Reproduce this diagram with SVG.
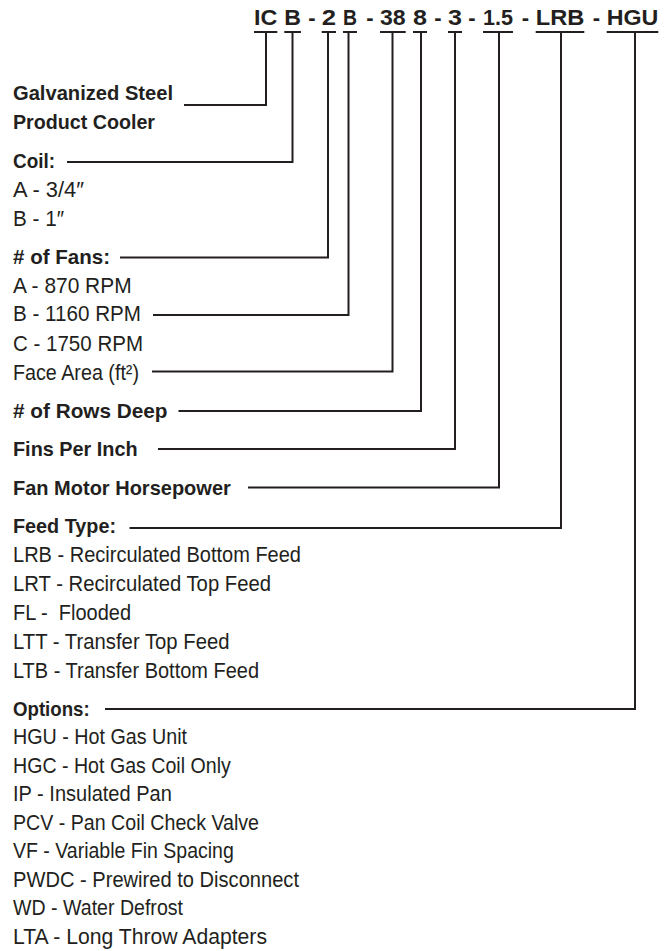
<svg xmlns="http://www.w3.org/2000/svg" width="669" height="951" viewBox="0 0 669 951">
<style>
text{font-family:"Liberation Sans",Arial,sans-serif;fill:#231f20}
.t{font-size:22px;font-weight:bold}
.h{font-size:21px;font-weight:bold}
.r{font-size:21.5px}
.ln{fill:none;stroke:#231f20;stroke-width:2}
</style>
<rect width="669" height="951" fill="#fff"/>
<g id="code">
<text class="t" x="254" y="25" textLength="23.3" lengthAdjust="spacingAndGlyphs">IC</text>
<text class="t" x="284.3" y="25" textLength="16.7" lengthAdjust="spacingAndGlyphs">B</text>
<text class="t" x="312" y="25" text-anchor="middle">-</text>
<text class="t" x="321.7" y="25" textLength="14.3" lengthAdjust="spacingAndGlyphs">2</text>
<text class="t" x="343" y="25" textLength="14" lengthAdjust="spacingAndGlyphs">B</text>
<text class="t" x="370" y="25" text-anchor="middle">-</text>
<text class="t" x="380" y="25" textLength="25.7" lengthAdjust="spacingAndGlyphs">38</text>
<text class="t" x="413" y="25" textLength="14" lengthAdjust="spacingAndGlyphs">8</text>
<text class="t" x="438" y="25" text-anchor="middle">-</text>
<text class="t" x="448" y="25" textLength="14" lengthAdjust="spacingAndGlyphs">3</text>
<text class="t" x="472" y="25" text-anchor="middle">-</text>
<text class="t" x="483" y="25" textLength="30" lengthAdjust="spacingAndGlyphs">1.5</text>
<text class="t" x="525.5" y="25" text-anchor="middle">-</text>
<text class="t" x="535.7" y="25" textLength="48.6" lengthAdjust="spacingAndGlyphs">LRB</text>
<text class="t" x="596.3" y="25" text-anchor="middle">-</text>
<text class="t" x="606.7" y="25" textLength="51.6" lengthAdjust="spacingAndGlyphs">HGU</text>
<path class="ln" d="M254 32H277.3M284.3 32H301M321.7 32H336M343 32H357M380 32H405.7M413 32H427M448 32H462M483 32H513M535.7 32H584.3M606.7 32H658.3"/>
</g>
<g id="connectors">
<path class="ln" d="M184 105H266V32"/>
<path class="ln" d="M67 162H292.5V32"/>
<path class="ln" d="M120 257.5H328V32"/>
<path class="ln" d="M153 315H348.5V32"/>
<path class="ln" d="M152 371.5H392.5V32"/>
<path class="ln" d="M178.5 411H421V32"/>
<path class="ln" d="M158 449H455V32"/>
<path class="ln" d="M248 487.5H499V32"/>
<path class="ln" d="M129.5 528H561V32"/>
<path class="ln" d="M105 709H635V32"/>
</g>
<g id="product">
<text class="h" x="13" y="100" textLength="160" lengthAdjust="spacingAndGlyphs">Galvanized Steel</text>
<text class="h" x="13" y="129" textLength="142" lengthAdjust="spacingAndGlyphs">Product Cooler</text>
</g>
<g id="coil">
<text class="h" x="13" y="167.5" textLength="42" lengthAdjust="spacingAndGlyphs">Coil:</text>
<text class="r" x="13" y="197" textLength="71" lengthAdjust="spacingAndGlyphs">A - 3/4″</text>
<text class="r" x="13" y="225.5" textLength="51" lengthAdjust="spacingAndGlyphs">B - 1″</text>
</g>
<g id="fans">
<text class="h" x="13" y="263.5" textLength="97" lengthAdjust="spacingAndGlyphs"># of Fans:</text>
<text class="r" x="13" y="292.5" textLength="118.6" lengthAdjust="spacingAndGlyphs">A - 870 RPM</text>
<text class="r" x="13" y="321" textLength="128" lengthAdjust="spacingAndGlyphs">B - 1160 RPM</text>
<text class="r" x="13" y="351" textLength="130" lengthAdjust="spacingAndGlyphs">C - 1750 RPM</text>
</g>
<g id="face-area">
<text class="r" x="13" y="379.5" textLength="126" lengthAdjust="spacingAndGlyphs">Face Area (ft²)</text>
</g>
<g id="rows">
<text class="h" x="13" y="417.5" textLength="154.5" lengthAdjust="spacingAndGlyphs"># of Rows Deep</text>
</g>
<g id="fins">
<text class="h" x="13" y="456" textLength="124.6" lengthAdjust="spacingAndGlyphs">Fins Per Inch</text>
</g>
<g id="horsepower">
<text class="h" x="13" y="494.5" textLength="217.8" lengthAdjust="spacingAndGlyphs">Fan Motor Horsepower</text>
</g>
<g id="feed">
<text class="h" x="13" y="533" textLength="103" lengthAdjust="spacingAndGlyphs">Feed Type:</text>
<text class="r" x="13" y="562" textLength="288" lengthAdjust="spacingAndGlyphs">LRB - Recirculated Bottom Feed</text>
<text class="r" x="13" y="591" textLength="258" lengthAdjust="spacingAndGlyphs">LRT - Recirculated Top Feed</text>
<text class="r" x="13" y="620" textLength="118" lengthAdjust="spacingAndGlyphs" style="white-space:pre">FL -  Flooded</text>
<text class="r" x="13" y="649" textLength="216.5" lengthAdjust="spacingAndGlyphs">LTT - Transfer Top Feed</text>
<text class="r" x="13" y="678" textLength="246" lengthAdjust="spacingAndGlyphs">LTB - Transfer Bottom Feed</text>
</g>
<g id="options">
<text class="h" x="13" y="715.5" textLength="76.7" lengthAdjust="spacingAndGlyphs">Options:</text>
<text class="r" x="13" y="744" textLength="174" lengthAdjust="spacingAndGlyphs">HGU - Hot Gas Unit</text>
<text class="r" x="13" y="772.5" textLength="217.8" lengthAdjust="spacingAndGlyphs">HGC - Hot Gas Coil Only</text>
<text class="r" x="13" y="801" textLength="158.8" lengthAdjust="spacingAndGlyphs">IP - Insulated Pan</text>
<text class="r" x="13" y="829.5" textLength="246" lengthAdjust="spacingAndGlyphs">PCV - Pan Coil Check Valve</text>
<text class="r" x="13" y="858" textLength="220.8" lengthAdjust="spacingAndGlyphs">VF - Variable Fin Spacing</text>
<text class="r" x="13" y="886.5" textLength="286" lengthAdjust="spacingAndGlyphs">PWDC - Prewired to Disconnect</text>
<text class="r" x="13" y="915" textLength="170" lengthAdjust="spacingAndGlyphs">WD - Water Defrost</text>
<text class="r" x="13" y="943.5" textLength="254" lengthAdjust="spacingAndGlyphs">LTA - Long Throw Adapters</text>
</g>
</svg>
